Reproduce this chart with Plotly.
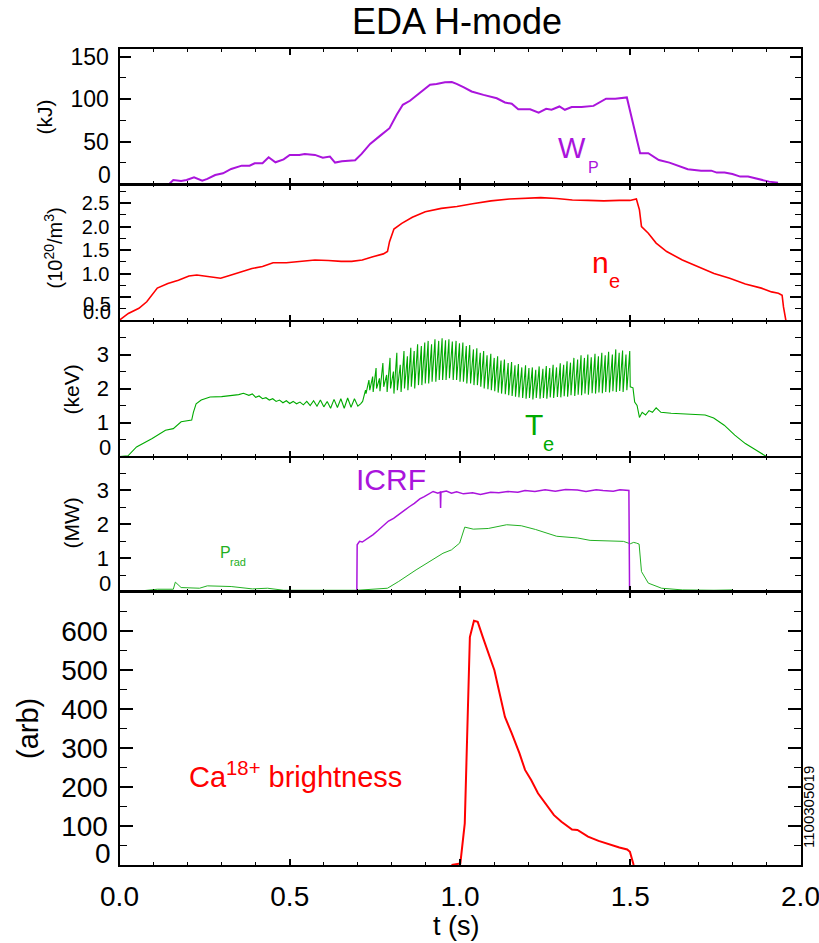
import plotly.graph_objects as go

# ---------------- data ----------------
# Panel 1: stored energy W_P (kJ)
wp_t = [0.146, 0.158, 0.181, 0.197, 0.219, 0.243, 0.258, 0.281, 0.304, 0.328,
        0.359, 0.382, 0.397, 0.420, 0.438, 0.458, 0.482, 0.500, 0.528, 0.544,
        0.574, 0.597, 0.618, 0.633, 0.653, 0.692, 0.711, 0.736, 0.765, 0.793,
        0.814, 0.832, 0.853, 0.880, 0.912, 0.931, 0.956, 0.976, 0.990, 1.010,
        1.034, 1.069, 1.108, 1.132, 1.152, 1.171, 1.206, 1.231, 1.253, 1.269,
        1.292, 1.308, 1.328, 1.357, 1.392, 1.429, 1.456, 1.490, 1.529, 1.553,
        1.584, 1.615, 1.646, 1.669, 1.708, 1.738, 1.754, 1.777, 1.800, 1.823,
        1.846, 1.877, 1.908, 1.934]
wp_v = [0, 4.7, 3.5, 4.7, 8, 4, 6, 10.6, 12.6, 17.7,
        21.6, 21.6, 24.4, 24.4, 31.5, 25.6, 29, 34.3, 34.3, 35.4,
        34.3, 31, 32.3, 25.2, 26.8, 28, 35.4, 47.2, 56.7, 65.7,
        81.5, 93.3, 98, 107, 117, 117.7, 119.7, 120, 118, 114,
        109, 105, 101, 96, 94.5, 88, 88, 84, 88.6, 87.4,
        91.3, 87.4, 90.6, 90.6, 92, 100.4, 100.4, 102, 36.2, 36.2,
        28.3, 25.2, 20.5, 17.3, 15.7, 15.7, 13.4, 13.4, 11.8, 8.7,
        8.7, 5.5, 2.8, 1.6]

# Panel 2: electron density n_e (1e20 m^-3)
ne_t = [0.0, 0.026, 0.057, 0.080, 0.111, 0.142, 0.173, 0.204, 0.227, 0.258,
        0.297, 0.328, 0.359, 0.389, 0.420, 0.451, 0.490, 0.528, 0.574, 0.613,
        0.651, 0.682, 0.713, 0.744, 0.775, 0.787, 0.793, 0.806, 0.829, 0.860,
        0.898, 0.945, 0.991, 1.037, 1.091, 1.145, 1.191, 1.237, 1.284, 1.330,
        1.376, 1.422, 1.468, 1.499, 1.518, 1.527, 1.533, 1.553, 1.576, 1.607,
        1.653, 1.699, 1.746, 1.792, 1.838, 1.885, 1.915, 1.935, 1.946, 1.950,
        1.958, 1.962]
ne_v = [0.01, 0.15, 0.26, 0.40, 0.69, 0.79, 0.86, 0.95, 0.97, 0.94,
        0.90, 0.97, 1.04, 1.11, 1.15, 1.23, 1.23, 1.26, 1.29, 1.28,
        1.26, 1.26, 1.29, 1.36, 1.42, 1.47, 1.68, 1.95, 2.07, 2.20,
        2.32, 2.39, 2.43, 2.49, 2.55, 2.59, 2.61, 2.62, 2.60, 2.57,
        2.56, 2.55, 2.56, 2.56, 2.59, 2.36, 2.00, 1.86, 1.65, 1.47,
        1.29, 1.15, 1.00, 0.90, 0.78, 0.69, 0.61, 0.58, 0.54, 0.29,
        0.01, -0.2]

# Panel 3: electron temperature T_e (keV)
te_pre_t = [0.0, 0.025, 0.05, 0.096, 0.135, 0.158, 0.181, 0.204, 0.212, 0.217,
            0.225, 0.24, 0.266, 0.3, 0.325, 0.35, 0.364, 0.38, 0.39, 0.40,
            0.41, 0.42, 0.43, 0.44, 0.45, 0.46, 0.47, 0.48, 0.49, 0.50,
            0.51, 0.52, 0.53, 0.54, 0.55, 0.56, 0.57, 0.58, 0.59, 0.60,
            0.61, 0.62, 0.63, 0.64, 0.65, 0.66, 0.67, 0.68, 0.69, 0.70,
            0.708]
te_pre_v = [0.0, 0.02, 0.28, 0.53, 0.77, 0.82, 1.02, 1.05, 1.07, 1.3,
            1.55, 1.66, 1.75, 1.76, 1.78, 1.82, 1.86, 1.8, 1.84, 1.74,
            1.78, 1.7, 1.73, 1.66, 1.7, 1.62, 1.66, 1.58, 1.64, 1.56,
            1.62, 1.55, 1.6, 1.52, 1.62, 1.5, 1.64, 1.48, 1.66, 1.46,
            1.62, 1.42, 1.68, 1.44, 1.7, 1.42, 1.72, 1.45, 1.7, 1.48,
            1.55]
# sawtooth: crash (trough) times and values, peak times and values
te_trough_t = [0.714, 0.724, 0.735, 0.745, 0.755, 0.765, 0.776, 0.786, 0.796, 0.806,
               0.816, 0.827, 0.837, 0.847, 0.857, 0.867, 0.878, 0.888, 0.898, 0.908,
               0.918, 0.929, 0.939, 0.949, 0.959, 0.969, 0.980, 0.990, 1.000, 1.010,
               1.020, 1.031, 1.041, 1.051, 1.061, 1.071, 1.082, 1.092, 1.102, 1.112,
               1.122, 1.133, 1.143, 1.153, 1.163, 1.173, 1.184, 1.194, 1.204, 1.214,
               1.224, 1.235, 1.245, 1.255, 1.265, 1.275, 1.286, 1.296, 1.306, 1.316,
               1.326, 1.337, 1.347, 1.357, 1.367, 1.377, 1.388, 1.398, 1.408, 1.418,
               1.428, 1.439, 1.449, 1.459, 1.469, 1.479, 1.490]
te_trough_v = [1.62, 1.85, 1.95, 1.90, 2.00, 1.92, 2.05, 1.90, 2.00, 1.85,
               1.95, 1.90, 2.00, 1.95, 2.05, 2.00, 2.10, 2.10, 2.15, 2.15,
               2.20, 2.20, 2.25, 2.25, 2.25, 2.30, 2.25, 2.25, 2.20, 2.20,
               2.15, 2.15, 2.10, 2.10, 2.05, 2.00, 1.98, 1.95, 1.92, 1.88,
               1.85, 1.83, 1.80, 1.78, 1.76, 1.74, 1.72, 1.70, 1.72, 1.68,
               1.72, 1.70, 1.72, 1.70, 1.74, 1.72, 1.75, 1.74, 1.77, 1.76,
               1.80, 1.78, 1.82, 1.80, 1.85, 1.82, 1.86, 1.85, 1.88, 1.86,
               1.90, 1.88, 1.92, 1.90, 1.93, 1.90, 1.95]
te_peak_t = [0.7225, 0.7325, 0.7435, 0.7535, 0.7635, 0.7735, 0.7845, 0.7945, 0.8045, 0.8145,
             0.8245, 0.8355, 0.8455, 0.8555, 0.8655, 0.8755, 0.8865, 0.8965, 0.9065, 0.9165,
             0.9265, 0.9375, 0.9475, 0.9575, 0.9675, 0.9775, 0.9885, 0.9985, 1.0085, 1.0185,
             1.0285, 1.0395, 1.0495, 1.0595, 1.0695, 1.0795, 1.0905, 1.1005, 1.1105, 1.1205,
             1.1305, 1.1415, 1.1515, 1.1615, 1.1715, 1.1815, 1.1925, 1.2025, 1.2125, 1.2225,
             1.2325, 1.2435, 1.2535, 1.2635, 1.2735, 1.2835, 1.2945, 1.3045, 1.3145, 1.3245,
             1.3345, 1.3455, 1.3555, 1.3655, 1.3755, 1.3855, 1.3965, 1.4065, 1.4165, 1.4265,
             1.4365, 1.4475, 1.4575, 1.4675, 1.4775, 1.4875, 1.4985]
te_peak_v = [1.95, 2.25, 2.35, 2.60, 2.30, 2.75, 2.40, 2.90, 2.50, 3.05,
             2.70, 3.10, 2.95, 3.20, 3.10, 3.30, 3.25, 3.35, 3.40, 3.30,
             3.45, 3.40, 3.48, 3.42, 3.45, 3.38, 3.40, 3.33, 3.35, 3.25,
             3.28, 3.15, 3.18, 3.05, 3.10, 2.98, 3.02, 2.90, 2.95, 2.82,
             2.85, 2.75, 2.78, 2.68, 2.72, 2.62, 2.68, 2.60, 2.62, 2.55,
             2.65, 2.58, 2.66, 2.60, 2.70, 2.62, 2.74, 2.70, 2.80, 2.76,
             2.90, 2.85, 2.98, 2.90, 3.00, 2.92, 3.02, 2.95, 3.05, 2.98,
             3.08, 3.00, 3.15, 3.05, 3.12, 3.00, 3.10]
te_post_t = [1.500, 1.508, 1.513, 1.520, 1.527, 1.535, 1.545, 1.555, 1.565, 1.576,
             1.590, 1.620, 1.650, 1.680, 1.720, 1.745, 1.776, 1.807, 1.838, 1.869,
             1.900]
te_post_v = [2.05, 2.02, 1.60, 1.50, 1.15, 1.30, 1.22, 1.35, 1.30, 1.43,
             1.30, 1.27, 1.26, 1.25, 1.22, 1.13, 0.92, 0.63, 0.38, 0.19,
             0.0]

# Panel 4: ICRF power and radiated power (MW)
icrf_t = [0.0, 0.697, 0.698, 0.705, 0.713, 0.728, 0.745, 0.759, 0.775, 0.790,
          0.805, 0.820, 0.835, 0.851, 0.866, 0.882, 0.895, 0.910, 0.921, 0.935,
          0.942, 0.943, 0.944, 0.960, 0.975, 0.990, 1.010, 1.037, 1.060, 1.090,
          1.114, 1.140, 1.170, 1.191, 1.220, 1.250, 1.280, 1.310, 1.345, 1.370,
          1.400, 1.420, 1.450, 1.470, 1.496, 1.498, 2.0]
icrf_v = [0.0, 0.0, 1.40, 1.50, 1.48, 1.58, 1.70, 1.82, 1.95, 2.10,
          2.18, 2.30, 2.40, 2.52, 2.62, 2.75, 2.82, 2.92, 2.97, 2.92,
          2.95, 2.48, 2.95, 2.98, 2.92, 2.96, 2.90, 2.93, 2.88, 2.95,
          2.93, 2.97, 2.95, 3.00, 2.97, 3.02, 2.98, 3.03, 3.01, 2.97,
          3.02, 3.00, 2.98, 3.02, 3.00, 0.0, 0.0]
prad_t = [0.062, 0.111, 0.158, 0.164, 0.181, 0.235, 0.258, 0.328, 0.390, 0.435,
          0.482, 0.574, 0.698, 0.787, 0.820, 0.871, 0.913, 0.950, 0.975, 0.999,
          1.014, 1.039, 1.083, 1.137, 1.180, 1.222, 1.284, 1.345, 1.382, 1.440,
          1.480, 1.500, 1.510, 1.518, 1.526, 1.533, 1.553, 1.592, 1.653, 1.746,
          1.800]
prad_v = [0.04, 0.09, 0.09, 0.30, 0.14, 0.12, 0.19, 0.17, 0.10, 0.12,
          0.06, 0.06, 0.06, 0.12, 0.32, 0.66, 0.93, 1.15, 1.25, 1.45,
          1.92, 1.86, 1.88, 1.99, 1.96, 1.85, 1.65, 1.60, 1.53, 1.52,
          1.50, 1.43, 1.47, 1.45, 1.42, 0.61, 0.27, 0.12, 0.07, 0.06,
          0.07]

# Panel 5: Ca18+ brightness (arb)
ca_t = [0.975, 1.001, 1.014, 1.021, 1.029, 1.041, 1.052, 1.067, 1.083, 1.101,
        1.114, 1.132, 1.152, 1.175, 1.191, 1.209, 1.229, 1.252, 1.276, 1.298,
        1.329, 1.345, 1.376, 1.407, 1.437, 1.468, 1.491, 1.499, 1.510]
ca_v = [0, 4, 107, 338, 585, 627, 624, 585, 543, 500,
        449, 380, 338, 286, 244, 218, 184, 158, 128, 111,
        91, 90, 73, 62, 53, 45, 40, 34, 0]

# axis ticks / ranges
y_ranges = [[0, 159], [0, 2.91], [0, 4.0], [0, 4.0], [0, 700]]
y_tickvals = [[0, 50, 100, 150],
              [0.0, 0.5, 1.0, 1.5, 2.0, 2.5],
              [0, 1, 2, 3],
              [0, 1, 2, 3],
              [0, 100, 200, 300, 400, 500, 600]]
y_minor = [25, 0.25, 0.5, 0.5, 50]
y_titles = ["(kJ)", "(10<sup>20</sup>/m<sup>3</sup>)", "(keV)", "(MW)", "(arb)"]
x_tickvals = [0.0, 0.5, 1.0, 1.5, 2.0]

# ---------------- layout geometry (pixels) ----------------
W, H = 819, 943
XL, XR = 119.5, 800.5
panels = [(49, 184), (184, 320.5), (320.5, 456.5), (456.5, 592.3), (592.3, 865)]

PURPLE = "#AA14DC"
RED = "#FF0000"
GREEN = "#00AA00"
GREEN2 = "#22B022"
FONT = "Liberation Sans, Arial, Helvetica, sans-serif"


def px(x):
    return x / W


def py(y):
    return 1 - y / H


# assemble sawtooth
te_saw_t, te_saw_v = [], []
for a, b, c, d in zip(te_trough_t, te_trough_v, te_peak_t, te_peak_v):
    te_saw_t += [a, c]
    te_saw_v += [b, d]
te_t = te_pre_t + te_saw_t + te_post_t
te_v = te_pre_v + te_saw_v + te_post_v

fig = go.Figure()


def add(x, y, i, color, width):
    fig.add_trace(go.Scatter(x=x, y=y, mode="lines",
                             line=dict(color=color, width=width),
                             xaxis="x" if i == 1 else f"x{i}",
                             yaxis="y" if i == 1 else f"y{i}",
                             showlegend=False, hoverinfo="skip"))


add(wp_t, wp_v, 1, PURPLE, 2)
add(ne_t, ne_v, 2, RED, 1.6)
add(te_t, te_v, 3, GREEN, 1.1)
add(prad_t, prad_v, 4, GREEN2, 1)
add(icrf_t, icrf_v, 4, PURPLE, 1.5)
add(ca_t, ca_v, 5, RED, 2)

tick_sizes = [23, 20, 22, 22, 28]
ylen = [11, 11, 11, 11, 13]
ymlen = [6, 6, 6, 6, 7]

layout = dict(template="none", width=W, height=H,
              margin=dict(l=0, r=0, t=0, b=0, autoexpand=False),
              paper_bgcolor="white", plot_bgcolor="white",
              font=dict(family=FONT, color="black"), showlegend=False)

annotations = []
for k, (top, bot) in enumerate(panels):
    i = k + 1
    xs = "xaxis" if i == 1 else f"xaxis{i}"
    ys = "yaxis" if i == 1 else f"yaxis{i}"
    layout[xs] = dict(domain=[px(XL), px(XR)], anchor="y" if i == 1 else f"y{i}",
                      range=[0, 2], showline=True, linecolor="black",
                      linewidth=2 if i in (1, 5) else 1,
                      mirror="ticks", ticks="inside", ticklen=6, tickwidth=1.5,
                      tickcolor="black", tickmode="array", tickvals=x_tickvals,
                      ticktext=[f"{v:.1f}" for v in x_tickvals],
                      minor=dict(ticks="inside", dtick=0.1, tick0=0, ticklen=3,
                                 tickwidth=1, tickcolor="black"),
                      showticklabels=(i == 5), showgrid=False, zeroline=False,
                      automargin=False, ticklabeloverflow="allow",
                      tickfont=dict(size=28, family=FONT, color="black"),
                      ticklabelstandoff=5)
    tv = y_tickvals[k]
    fmt = (lambda v: f"{v:.1f}") if k == 1 else (lambda v: f"{v:g}")
    ttext = [fmt(v) for v in tv]
    # bottom labels (and 0.5 for n_e) are drawn as annotations lifted off the axis
    hidden = {0} if k != 1 else {0, 1}
    shown = [" " if j in hidden else t for j, t in enumerate(ttext)]
    layout[ys] = dict(domain=[py(bot), py(top)], anchor="x" if i == 1 else f"x{i}",
                      range=y_ranges[k], showline=True, linecolor="black", linewidth=2,
                      mirror="ticks", ticks="inside", ticklen=ylen[k], tickwidth=1.5,
                      tickcolor="black", tickmode="array", tickvals=tv, ticktext=shown,
                      minor=dict(ticks="inside", tickmode="linear", tick0=0,
                                 dtick=y_minor[k], ticklen=ymlen[k], tickwidth=1,
                                 tickcolor="black"),
                      showgrid=False, zeroline=False, automargin=False,
                      ticklabeloverflow="allow",
                      tickfont=dict(size=tick_sizes[k], family=FONT, color="black"),
                      ticklabelstandoff=4)
    cap = tick_sizes[k] * 0.716
    annotations.append(dict(text=ttext[0], xref="paper", yref="paper",
                            x=px(XL - 7), y=py(bot - cap / 2 - 1),
                            xanchor="right", yanchor="middle", showarrow=False,
                            font=dict(size=tick_sizes[k], family=FONT)))
    if k == 1:
        annotations.append(dict(text=ttext[1], xref="paper", yref="paper",
                                x=px(XL - 7), y=py(304), xanchor="right",
                                yanchor="middle", showarrow=False,
                                font=dict(size=tick_sizes[k], family=FONT)))

# y-axis titles (rotated)
ytitle_pos = [(44, 117.5, 21), (53, 248.5, 20), (71, 389.5, 21), (71, 523.5, 21),
              (28, 729, 29)]
for txt, (cx, cy, fs) in zip(y_titles, ytitle_pos):
    annotations.append(dict(text=txt, xref="paper", yref="paper", x=px(cx), y=py(cy),
                            xanchor="center", yanchor="middle", textangle=-90,
                            showarrow=False, font=dict(size=fs, family=FONT)))


def label(text, cx, cy, size, color, xanchor="center", angle=0):
    annotations.append(dict(text=text, xref="paper", yref="paper", x=px(cx), y=py(cy),
                            xanchor=xanchor, yanchor="middle", showarrow=False,
                            textangle=angle,
                            font=dict(size=size, color=color, family=FONT)))


label("EDA H-mode", 457, 21, 36, "black")
label("t (s)", 456, 926, 27, "black")
label("W", 572, 148, 29, PURPLE)
label("P", 593, 167.5, 16, PURPLE)
label("n", 600.5, 263, 30, RED)
label("e", 614.5, 281, 20, RED)
label("T", 534, 425, 30, GREEN)
label("e", 548.5, 444, 20, GREEN)
label("ICRF", 391, 480, 30, PURPLE)
label("P", 225.5, 552.5, 16, GREEN2)
label("rad", 238, 561.5, 11, GREEN2)
label("Ca<sup>18+</sup> brightness", 187, 775, 29, RED, xanchor="left")
label("1100305019", 808, 807, 15, "black", angle=-90)

layout["annotations"] = annotations
fig.update_layout(**layout)
fig.write_html("out.html", config={"displayModeBar": False},
               post_script="document.body.style.margin='0';"
                           "document.body.style.overflow='hidden';")
